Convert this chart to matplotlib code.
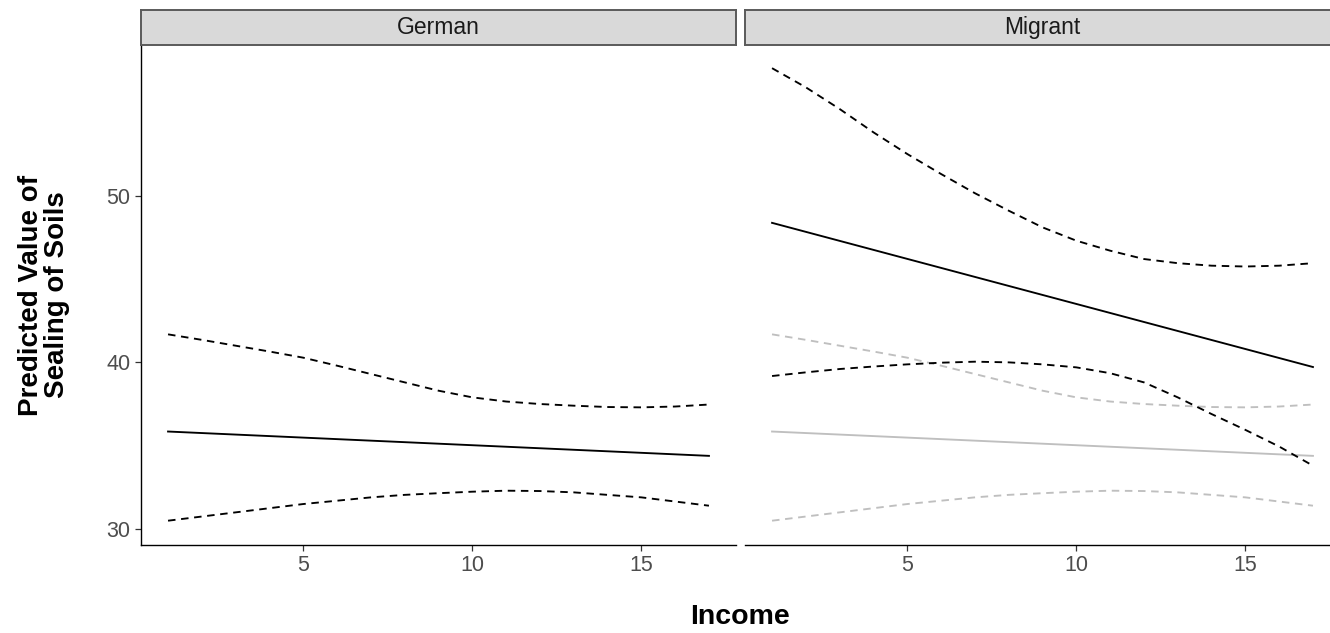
import matplotlib
matplotlib.use("Agg")
import matplotlib.pyplot as plt

plt.rcParams["font.family"] = ["Liberation Sans", "DejaVu Sans"]

W, H = 1330, 633

income = list(range(1, 18))

# German: fitted line and interval bounds
german_fit_x = [1, 17]
german_fit = [35.85, 34.39]
german_upper = [41.68, 41.35, 41.0, 40.65, 40.28, 39.8, 39.3, 38.8, 38.3,
                37.9, 37.65, 37.5, 37.4, 37.32, 37.3, 37.35, 37.47]
german_lower = [30.5, 30.75, 31.0, 31.25, 31.5, 31.7, 31.9, 32.05, 32.15,
                32.24, 32.3, 32.28, 32.2, 32.05, 31.9, 31.65, 31.4]

# Migrant: fitted line and interval bounds
migrant_fit_x = [1, 17]
migrant_fit = [48.37, 39.72]
migrant_upper = [57.65, 56.5, 55.2, 53.8, 52.5, 51.3, 50.15, 49.1, 48.1,
                 47.3, 46.7, 46.2, 45.95, 45.8, 45.75, 45.8, 45.95]
migrant_lower = [39.18, 39.4, 39.6, 39.75, 39.88, 39.98, 40.04, 40.0, 39.88,
                 39.7, 39.35, 38.8, 37.9, 36.9, 35.95, 34.95, 33.8]

panels = ["German", "Migrant"]
x_ticks = [5, 10, 15]
y_ticks = [30, 40, 50]

fig = plt.figure(figsize=(W / 100, H / 100), dpi=100)


def px_box(x0, x1, top, bottom):
    return [x0 / W, 1 - bottom / H, (x1 - x0) / W, (bottom - top) / H]


panel_top, panel_bottom = 44.5, 544.7
strip_top = 10
lefts = [141, 745]
pw = 595

dash = (4, 3)
lw = 1.35

axes = []
for i, name in enumerate(panels):
    x0 = lefts[i]
    ax = fig.add_axes(px_box(x0, x0 + pw, panel_top, panel_bottom))
    axes.append(ax)
    ax.set_xlim(0.2, 17.8)
    ax.set_ylim(29.06, 59.07)
    for s in ["top", "right"]:
        ax.spines[s].set_visible(False)
    ax.spines["bottom"].set_linewidth(1.0)
    ax.spines["left"].set_linewidth(1.0)
    ax.set_xticks(x_ticks)
    ax.set_yticks(y_ticks)
    ax.tick_params(axis="both", length=4, width=0.9, color="#333333",
                   labelsize=15.5, labelcolor="#4d4d4d", pad=3.5)
    if i == 1:
        ax.spines["left"].set_visible(False)
        ax.tick_params(axis="y", left=False, labelleft=False)

    # strip on top of each panel
    sax = fig.add_axes(px_box(x0, x0 + pw, strip_top, panel_top))
    sax.set_xticks([])
    sax.set_yticks([])
    sax.set_facecolor("#d9d9d9")
    for s in sax.spines.values():
        s.set_color("#5a5a5a")
        s.set_linewidth(1.4)
    sax.text(0.5, 0.5, name, ha="center", va="center", fontsize=16.5,
             color="#1a1a1a", transform=sax.transAxes)

ax_g, ax_m = axes

ax_g.plot(german_fit_x, german_fit, color="black", lw=lw)
ax_g.plot(income, german_upper, color="black", lw=lw, dashes=dash)
ax_g.plot(income, german_lower, color="black", lw=lw, dashes=dash)

# German reference in grey behind the migrant lines
ax_m.plot(german_fit_x, german_fit, color="#bfbfbf", lw=lw)
ax_m.plot(income, german_upper, color="#bfbfbf", lw=lw, dashes=dash)
ax_m.plot(income, german_lower, color="#bfbfbf", lw=lw, dashes=dash)
ax_m.plot(migrant_fit_x, migrant_fit, color="black", lw=lw)
ax_m.plot(income, migrant_upper, color="black", lw=lw, dashes=dash)
ax_m.plot(income, migrant_lower, color="black", lw=lw, dashes=dash)

fig.text(740 / W, 1 - 617 / H, "Income", ha="center", va="center",
         fontsize=20.5, fontweight="bold")
fig.text(44 / W, 1 - 295 / H, "Predicted Value of\nSealing of Soils",
         ha="center", va="center", rotation=90, fontsize=20,
         fontweight="bold", linespacing=1.0, multialignment="center")

fig.savefig("out.png", dpi=100)
